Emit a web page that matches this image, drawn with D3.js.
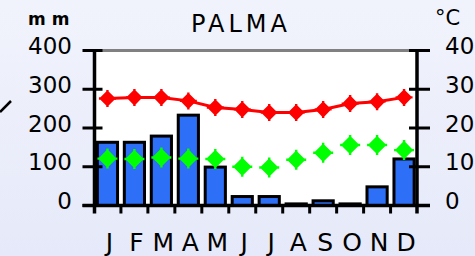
<!DOCTYPE html>
<html>
<head>
<meta charset="utf-8">
<script src="https://cdn.jsdelivr.net/npm/d3@7"></script>
<style>
  html, body { margin: 0; padding: 0; background: #eceffb; }
  svg { display: block; }
  text { font-family: "DejaVu Sans", sans-serif; fill: #000; }
</style>
</head>
<body>
<div id="chart"></div>
<script>
// climate chart for Palma: rainfall bars (mm) + max/min temperature (°C)
var months = ["J", "F", "M", "A", "M", "J", "J", "A", "S", "O", "N", "D"];
var rainMm = [167, 167, 183, 237, 103, 27, 27, 8, 16, 8, 52, 124];
var tempMax = [27.6, 27.9, 27.9, 27.0, 25.3, 24.8, 24.0, 24.0, 24.8, 26.3, 26.8, 27.9];
var tempMin = [12.1, 12.0, 12.4, 12.1, 12.0, 10.0, 9.8, 11.8, 13.6, 15.6, 15.6, 14.3];
var rainTicks = [0, 100, 200, 300, 400];
var tempTicks = [0, 10, 20, 30, 40];

var width = 475, height = 256;
var plotLeft = 94.5, plotRight = 417, plotTop = 50.5, plotBottom = 205.5;

var svg = d3.select("#chart").append("svg")
    .attr("width", width)
    .attr("height", height);

// soft lavender background
var grad = svg.append("defs").append("linearGradient")
    .attr("id", "bg").attr("x1", 0).attr("y1", 0).attr("x2", 0).attr("y2", 1);
grad.append("stop").attr("offset", "0%").attr("stop-color", "#f1f3fc");
grad.append("stop").attr("offset", "100%").attr("stop-color", "#e6e9f9");
svg.append("rect").attr("width", width).attr("height", height).attr("fill", "url(#bg)");

var x = d3.scaleBand()
    .domain(d3.range(months.length))
    .range([plotLeft, plotRight])
    .paddingInner(0.14)
    .paddingOuter(0.05);
var yRain = d3.scaleLinear().domain([0, 400]).range([plotBottom, plotTop]);
var yTemp = d3.scaleLinear().domain([0, 40]).range([plotBottom, plotTop]);

// white plot area
svg.append("rect")
    .attr("x", plotLeft).attr("y", plotTop)
    .attr("width", plotRight - plotLeft).attr("height", plotBottom - plotTop)
    .attr("fill", "#fff");

// grey top border
svg.append("line")
    .attr("x1", plotLeft).attr("x2", plotRight)
    .attr("y1", plotTop).attr("y2", plotTop)
    .attr("stroke", "#808080").attr("stroke-width", 3);

// rainfall bars
svg.append("g").selectAll("rect")
    .data(rainMm)
    .enter().append("rect")
    .attr("x", function (d, i) { return x(i) + 1.5; })
    .attr("y", function (d) { return yRain(d) + 1.5; })
    .attr("width", x.bandwidth() - 3)
    .attr("height", function (d) { return Math.max(0, plotBottom - yRain(d) - 1.5); })
    .attr("fill", "#2d6ff6")
    .attr("stroke", "#000")
    .attr("stroke-width", 3);

// axes lines
var axisG = svg.append("g").attr("stroke", "#000").attr("stroke-width", 3.5);
axisG.append("line").attr("x1", plotLeft).attr("x2", plotLeft).attr("y1", plotTop).attr("y2", plotBottom + 8);
axisG.append("line").attr("x1", plotRight).attr("x2", plotRight).attr("y1", plotTop).attr("y2", plotBottom + 8);
axisG.append("line").attr("x1", plotLeft - 12).attr("x2", plotRight + 13).attr("y1", plotBottom).attr("y2", plotBottom);

// left ticks + labels
axisG.selectAll(".lt").data(rainTicks).enter().append("line")
    .attr("x1", plotLeft - 12).attr("x2", plotLeft + 8)
    .attr("y1", function (d) { return yRain(d); })
    .attr("y2", function (d) { return yRain(d); })
    .attr("stroke-width", 3);
svg.selectAll(".ll").data(rainTicks).enter().append("text")
    .attr("x", 72)
    .attr("y", function (d) { return yRain(d) + 3.5; })
    .attr("text-anchor", "end")
    .attr("font-size", 23)
    .text(function (d) { return d; });

// right ticks + labels
axisG.selectAll(".rt").data(tempTicks).enter().append("line")
    .attr("x1", plotRight - 8).attr("x2", plotRight + 13)
    .attr("y1", function (d) { return yTemp(d); })
    .attr("y2", function (d) { return yTemp(d); })
    .attr("stroke-width", 3);
svg.selectAll(".rl").data(tempTicks).enter().append("text")
    .attr("x", 445)
    .attr("y", function (d) { return yTemp(d) + 3.5; })
    .attr("font-size", 23)
    .text(function (d) { return d; });

// month boundary ticks
var step = x.step();
axisG.selectAll(".mt").data(d3.range(1, months.length)).enter().append("line")
    .attr("x1", function (i) { return x(i) - (step - x.bandwidth()) / 2; })
    .attr("x2", function (i) { return x(i) - (step - x.bandwidth()) / 2; })
    .attr("y1", plotBottom).attr("y2", plotBottom + 8)
    .attr("stroke-width", 3);

// month labels
svg.selectAll(".ml").data(months).enter().append("text")
    .attr("x", function (d, i) { return x(i) + x.bandwidth() / 2 + 2; })
    .attr("y", 251)
    .attr("text-anchor", "middle")
    .attr("font-size", 25)
    .text(function (d) { return d; });

// marker shape: diamond blob with thin arms
function starSymbol(arm, blob) {
    return {
        draw: function (ctx) {
            var w = 1.2;
            ctx.moveTo(-arm, -w); ctx.lineTo(-blob, -w); ctx.lineTo(-w, -blob);
            ctx.lineTo(-w, -arm); ctx.lineTo(w, -arm); ctx.lineTo(w, -blob);
            ctx.lineTo(blob, -w); ctx.lineTo(arm, -w); ctx.lineTo(arm, w);
            ctx.lineTo(blob, w); ctx.lineTo(w, blob); ctx.lineTo(w, arm);
            ctx.lineTo(-w, arm); ctx.lineTo(-w, blob); ctx.lineTo(-blob, w);
            ctx.lineTo(-arm, w); ctx.closePath();
        }
    };
}

var cx = function (d, i) { return x(i) + x.bandwidth() / 2; };

// max temperature line
svg.append("path")
    .datum(tempMax)
    .attr("fill", "none")
    .attr("stroke", "#ff0000")
    .attr("stroke-width", 3)
    .attr("d", d3.line().x(cx).y(function (d) { return yTemp(d); }));

svg.append("g").selectAll("path")
    .data(tempMax)
    .enter().append("path")
    .attr("transform", function (d, i) { return "translate(" + cx(d, i) + "," + yTemp(d) + ")"; })
    .attr("d", d3.symbol().type(starSymbol(8.5, 7)))
    .attr("fill", "#ff0000");

// min temperature points
svg.append("g").selectAll("path")
    .data(tempMin)
    .enter().append("path")
    .attr("transform", function (d, i) { return "translate(" + cx(d, i) + "," + yTemp(d) + ")"; })
    .attr("d", d3.symbol().type(starSymbol(10, 8)))
    .attr("fill", "#00ff00");

// titles
svg.append("text")
    .attr("x", 241).attr("y", 32)
    .attr("text-anchor", "middle")
    .attr("font-size", 24)
    .attr("letter-spacing", 4)
    .text("PALMA");
svg.append("text")
    .attr("x", 28).attr("y", 25)
    .attr("font-size", 17).attr("font-weight", "bold")
    .text("m m");
svg.append("text")
    .attr("x", 435).attr("y", 25)
    .attr("font-size", 21)
    .text("°C");

// stray mark on the left edge
svg.append("line")
    .attr("x1", 0).attr("y1", 112).attr("x2", 11).attr("y2", 101)
    .attr("stroke", "#000").attr("stroke-width", 2.5);
</script>
</body>
</html>
